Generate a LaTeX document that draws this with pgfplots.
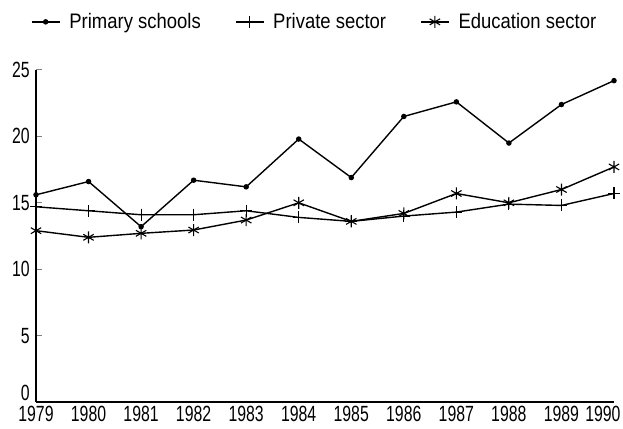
\documentclass[border=0pt]{standalone}
\usepackage{pgfplots}
\pgfplotsset{compat=1.18}
\usepackage{fontspec}
\setmainfont[FakeStretch=0.72]{Liberation Sans}
\newfontfamily\legfont[FakeStretch=0.88]{Liberation Sans}
\begin{document}
\begin{tikzpicture}
\begin{axis}[
  name=ax,
  scale only axis,
  width=578pt, height=332pt,
  xmin=1979, xmax=1990,
  ymin=0, ymax=25,
  axis x line=bottom, axis y line=left,
  x axis line style={-, line width=1.6pt},
  y axis line style={-, line width=2.2pt},
  xtick={1979,...,1990},
  xticklabels={1979,1980,1981,1982,1983,1984,1985,1986,1987,1988,1989,\hspace*{-22pt}1990},
  ytick={0,5,10,15,20,25},
  yticklabels={\raisebox{19pt}{0},5,10,15,20,25},
  x tick style={draw=none},
  y tick style={line width=1pt},
  tick align=inside,
  major tick length=6pt,
  /pgf/number format/assume math mode=true,
  tick label style={font=\fontsize{22}{24}\selectfont},
  xticklabel style={inner sep=1pt, yshift=-2.5pt},
  yticklabel style={inner sep=1pt, xshift=-5pt},
  legend style={draw=none, at={(0.482,1.145)}, anchor=center, font=\legfont\fontsize{21}{24}\selectfont, legend columns=3,
     /tikz/every odd column/.append style={column sep=7pt},
     /tikz/every even column/.append style={column sep=32pt}},
  legend cell align=left,
  legend image code/.code={\draw[mark repeat=2,mark phase=2] plot coordinates {(0pt,0pt) (14pt,0pt) (28pt,0pt)};},
  every axis plot/.append style={black, line width=1.4pt},
  clip=false,
]
\addplot[mark=*, mark size=2pt] coordinates {
(1979,15.6) (1980,16.6) (1981,13.2) (1982,16.7) (1983,16.2) (1984,19.8)
(1985,16.9) (1986,21.5) (1987,22.6) (1988,19.5) (1989,22.4) (1990,24.2)};
\addlegendentry{Primary schools}
\addplot[mark=+, mark size=6pt, mark options={line width=1.1pt}] coordinates {
(1979,14.7) (1980,14.4) (1981,14.1) (1982,14.1) (1983,14.4) (1984,13.9)
(1985,13.6) (1986,14.0) (1987,14.3) (1988,14.9) (1989,14.8) (1990,15.7)};
\addlegendentry{Private sector}
\addplot[mark=asterisk, mark size=6pt, mark options={line width=1.1pt}] coordinates {
(1979,12.9) (1980,12.4) (1981,12.7) (1982,12.95) (1983,13.7) (1984,15.0)
(1985,13.6) (1986,14.2) (1987,15.7) (1988,15.0) (1989,16.0) (1990,17.7)};
\addlegendentry{Education sector}
\end{axis}
\pgfresetboundingbox
\path[use as bounding box] ([xshift=-36pt,yshift=-27pt]ax.south west) rectangle ([xshift=9pt,yshift=70pt]ax.north east);
\end{tikzpicture}
\end{document}
